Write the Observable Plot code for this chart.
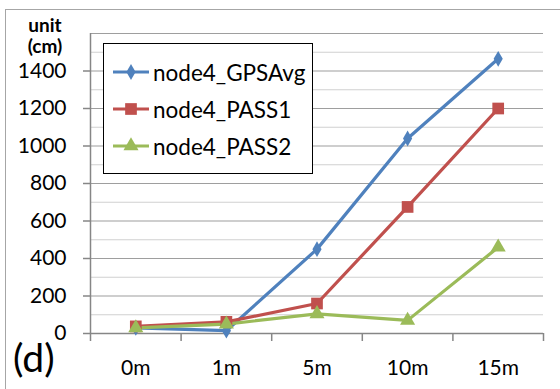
<!DOCTYPE html>
<html><head><meta charset="utf-8">
<script src="https://cdn.jsdelivr.net/npm/d3@7"></script>
<script src="https://cdn.jsdelivr.net/npm/@observablehq/plot@0.6"></script>
<style>
html,body{margin:0;padding:0;background:#fff;overflow:hidden;}
#wrap{position:relative;width:560px;height:389px;font-family:Lato,"Open Sans",sans-serif;}
#frame{position:absolute;left:5px;top:9px;width:600px;height:420px;border:1.5px solid #a6a6a6;box-sizing:border-box;}
#chart{position:absolute;left:0;top:0;}
.unit{position:absolute;left:20px;width:50px;font-weight:bold;font-size:19px;line-height:19px;text-align:center;color:#000;}
#tag{position:absolute;left:13px;top:335px;font-size:39px;line-height:44px;color:#000;}
#legend{position:absolute;left:103px;top:43px;width:210px;height:131px;border:1.5px solid #000;box-sizing:border-box;background:#fff;}
.item{position:absolute;left:8px;height:30px;display:flex;align-items:center;font-size:22.5px;color:#000;}
.item svg{margin-right:3px;}
</style></head>
<body>
<div id="wrap">
  <div id="frame"></div>
  <div id="chart"></div>
  <div class="unit" style="top:15px">unit</div>
  <div class="unit" style="top:36px">(cm)</div>
  <div id="tag">(d)</div>
  <div id="legend"></div>
</div>
<script>
const categories = ["0m", "1m", "5m", "10m", "15m"];
const seriesNames = ["node4_GPSAvg", "node4_PASS1", "node4_PASS2"];
const gpsAvg = [30, 15, 450, 1040, 1465];
const pass1 = [38, 62, 160, 675, 1200];
const pass2 = [30, 50, 105, 70, 460];
const yMajorTicks = [0, 200, 400, 600, 800, 1000, 1200, 1400];
const yGridMajor = [200, 400, 600, 800, 1000, 1200, 1400, 1600];
const yGridMinor = [100, 300, 500, 700, 900, 1100, 1300, 1500];

const colors = ["#4F81BD", "#C0504D", "#9BBB59"];
const symbols = ["diamond", "square", "triangle"];
const radii = [4.8, 6.6, 5.6];
const seriesValues = [gpsAvg, pass1, pass2];

const rows = seriesValues.map((vals, s) => vals.map((v, i) => ({series: seriesNames[s], i, v})));
const boundaries = d3.range(categories.length + 1).map(d => d - 0.5);

const plot = Plot.plot({
  width: 560, height: 389,
  marginLeft: 90, marginRight: 17, marginTop: 33, marginBottom: 56,
  style: {fontFamily: "Lato, 'Open Sans', sans-serif", fontSize: "21px", color: "#000", background: "transparent"},
  x: {type: "linear", domain: [-0.5, categories.length - 0.5]},
  y: {domain: [0, 1600]},
  marks: [
    Plot.ruleY(yGridMinor, {stroke: "#d0d0d0", strokeWidth: 1.2}),
    Plot.ruleY(yGridMajor, {stroke: "#9e9e9e", strokeWidth: 1.2}),
    Plot.ruleX([-0.5], {y1: 0, y2: 1600, stroke: "#868686", strokeWidth: 1.5}),
    Plot.ruleY([0], {stroke: "#868686", strokeWidth: 1.5}),
    Plot.axisY({ticks: yMajorTicks, tickSize: 7, tickPadding: 17, tickFormat: d => String(d), stroke: "#868686", strokeWidth: 1.5, label: null}),
    Plot.axisX({ticks: boundaries, tickSize: 8, tickFormat: () => "", stroke: "#868686", strokeWidth: 1.5, label: null}),
    Plot.axisX({ticks: d3.range(categories.length), tickSize: 0, tickPadding: 27, tickFormat: i => categories[i], label: null}),
    ...rows.map((r, s) => Plot.line(r, {x: "i", y: "v", stroke: colors[s], strokeWidth: 3.2})),
    ...rows.map((r, s) => Plot.dot(r, {x: "i", y: "v", symbol: symbols[s], r: radii[s], fill: colors[s], stroke: "none"}))
  ]
});
document.getElementById("chart").appendChild(plot);

const legend = document.getElementById("legend");
const legendTops = [22, 59, 96];
seriesNames.forEach((name, s) => {
  const item = document.createElement("div");
  item.className = "item";
  item.style.top = (legendTops[s] - 15 + 6) + "px";
  const svg = d3.create("svg").attr("width", 38).attr("height", 20);
  svg.append("line").attr("x1", 1).attr("x2", 37).attr("y1", 10).attr("y2", 10).attr("stroke", colors[s]).attr("stroke-width", 3.2);
  svg.append("path").attr("transform", "translate(19,10)").attr("fill", colors[s])
    .attr("d", d3.symbol(d3["symbol" + symbols[s][0].toUpperCase() + symbols[s].slice(1)], radii[s] * radii[s] * Math.PI)());
  item.appendChild(svg.node());
  const t = document.createElement("span");
  t.textContent = name;
  item.appendChild(t);
  legend.appendChild(item);
});
</script>
</body></html>
